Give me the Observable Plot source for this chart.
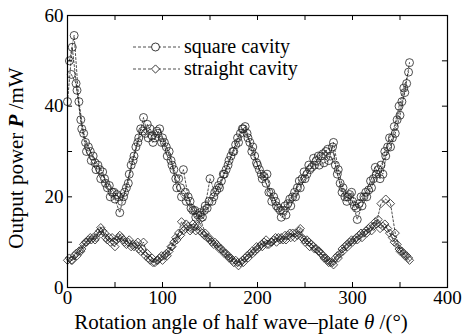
<!DOCTYPE html>
<html><head><meta charset="utf-8">
<script src="https://cdn.jsdelivr.net/npm/d3@7"></script>
<script src="https://cdn.jsdelivr.net/npm/@observablehq/plot@0.6"></script>
<style>body{margin:0;background:#fff}</style>
</head><body><div id="chart"></div>
<script>
// Rotation angles (degrees) of the three measurement runs
const angA = d3.range(0, 361, 5);
const angB = d3.range(2, 358, 5);
const angC = d3.range(4, 360, 5);

// Square cavity output power (mW), three runs
const squareA = [41,53,43.5,35,30,28,26,24,23,20,19.5,16.5,21,25,29,33,37.5,33,32,34,33,29,27,22,20,19,17.5,15.5,16,18,24,21,22,25,28,30,32,35,33,31,27,24,25,19,18,15.5,16,18,20,22,24,26,27,27,27.5,28,32,26,22,20,19,15,18,20,22,25,27,29,31,34,38,43,49.6];
const squareB = [50,55.6,41,34,31,29,27,25.5,22,21,20.5,19,22,27,31,35,34,35,33,35,32,30,26,24,26,20,17,16,15.5,17.5,19,21.5,23.5,26,29,31.5,34,35.5,32,29,26,24.5,21,20,17.5,17,18.5,20,22,24,25,26.5,28,29,30,29,27,23,20,20.5,18,18.5,20,21.5,24,26,25,31,33,37,41,45];
const squareC = [47,45,37,32,30,27.5,26,24,22.5,21,20,20,23,28,32,34.5,36,33.5,34.5,32,31,28,24,22,21,19,17,16.5,17,19,20,22.5,25,27,30,33,35,34,30,27.5,25,23,21,19,17,18,19.5,21,23.5,25.5,27,28.5,29,29.5,30.5,31,25,21,19,21,17.5,20,21,23.5,26.5,24,30,33,35.5,40,44,47.5];

// Straight cavity output power (mW), three runs
const straightA = [6,6,7,8.5,10,10.5,11,13.2,11,10,9,11.5,10,10.5,9,8.5,10,6.5,5.5,6,6,7,9,10.5,14.5,14,13,12.5,15,12,10.5,10,8.5,7.5,6.5,5.5,4.8,5.5,6.5,7.5,8.5,9,9.5,10,10,11,10.5,11,12,13,10,9,8.5,8,6.5,5.5,5,6.5,8,9,10,10.5,11,12,12.5,14,18.5,19.5,18.5,12,8,7,6];
const straightB = [6.5,7,8,9.5,10.5,11,12,12.5,10.5,11,10.5,11,9.5,9,9.5,8,7,6,5.5,6.5,7,8,10,12,12.5,13.5,14,13.5,12,11,10,9.5,8.5,7.5,6.5,6,5.5,6.5,7.5,8,9,10,9.5,10.5,11,10.5,11.5,12,11.5,11,10.5,9.5,8.5,7.5,6.5,5.5,6.5,7.5,9,10,10.5,11.5,12,13,13.5,15,13.5,13,11,9.5,8,7];
const straightC = [6,7.5,8,10,11,10.5,12.5,12,11,10,11,10.5,10,9.5,10,8.5,7.5,6.5,6,7,7.5,9,11,11.5,13,12.5,13.5,12.5,11.5,11,9.5,9,8,7,6,5.5,6,7,8,9,9.5,10.5,10,11,10.5,11.5,12,11,12.5,10.5,10,9,8,7,6,5.5,7,8.5,9.5,10.5,11,12,12.5,13.5,14.5,13,14,12,10,8.5,7.5,6.5];

const xTicks = [0,100,200,300,400];
const xMinor = [0,50,100,150,200,250,300,350,400];
const yTicks = [0,20,40,60];
const yMinor = [0,10,20,30,40,50,60];
const seriesLabels = ["square cavity", "straight cavity"];

function rows(angles, values, run){ return values.map((v,i)=>({x: angles[i], y: v, run})); }
const square = [...rows(angA, squareA, "A"), ...rows(angB, squareB, "B"), ...rows(angC, squareC, "C")];
const straight = [...rows(angA, straightA, "A"), ...rows(angB, straightB, "B"), ...rows(angC, straightC, "C")];

const ink = "#222";
const font = "Liberation Serif";
const chart = Plot.plot({
  width: 463, height: 334,
  marginLeft: 67, marginRight: 16, marginTop: 15, marginBottom: 47,
  x: {domain: [0, 400]},
  y: {domain: [0, 60]},
  style: {fontFamily: font, fontSize: "19px", background: "white", color: "black"},
  marks: [
    Plot.line(straight, {x: "x", y: "y", z: "run", stroke: ink, strokeWidth: 0.8, strokeDasharray: "2,2"}),
    Plot.line(square, {x: "x", y: "y", z: "run", stroke: ink, strokeWidth: 0.8, strokeDasharray: "2,2"}),
    Plot.dot(straight, {x: "x", y: "y", symbol: "diamond2", r: 3.7, stroke: ink, strokeWidth: 0.8, fill: "none"}),
    Plot.dot(square, {x: "x", y: "y", symbol: "circle", r: 4, stroke: ink, strokeWidth: 0.8, fill: "none"}),
    Plot.ruleX(xMinor, {x: d => d, y1: 0, y2: 1.1, stroke: "black"}),
    Plot.ruleX(xMinor, {x: d => d, y1: 60, y2: 58.9, stroke: "black"}),
    Plot.ruleY(yMinor, {y: d => d, x1: 0, x2: 5.3, stroke: "black"}),
    Plot.ruleY(yMinor, {y: d => d, x1: 400, x2: 394.7, stroke: "black"}),
    Plot.axisX({ticks: xTicks, tickSize: 0, tickPadding: 3, label: null, fontSize: 19}),
    Plot.axisY({ticks: yTicks, tickSize: 0, tickPadding: 4, label: null, fontSize: 19}),
    Plot.frame({stroke: "black", strokeWidth: 1.2})
  ]
});
document.getElementById("chart").appendChild(chart);

const svg = d3.select(chart);
// Axis titles
const xl = svg.append("text").attr("x", 241).attr("y", 329).attr("text-anchor", "middle")
  .attr("font-family", font).attr("font-size", 21).attr("fill", "black");
xl.append("tspan").text("Rotation angle of half wave\u2013plate ");
xl.append("tspan").attr("font-style", "italic").text("\u03B8");
xl.append("tspan").text(" /(\u00B0)");
const yl = svg.append("text").attr("transform", "translate(23,158) rotate(-90)").attr("text-anchor", "middle")
  .attr("font-family", font).attr("font-size", 21).attr("fill", "black");
yl.append("tspan").text("Output power ");
yl.append("tspan").attr("font-style", "italic").attr("font-weight", "bold").text("P");
yl.append("tspan").text(" /mW");

// Legend
const legendItems = [{label: seriesLabels[0], sym: d3.symbolCircle, y: 47, r: 4}, {label: seriesLabels[1], sym: d3.symbolDiamond2, y: 69, r: 3.7}];
const lg = svg.append("g");
legendItems.forEach(it => {
  lg.append("line").attr("x1", 133).attr("x2", 180).attr("y1", it.y).attr("y2", it.y)
    .attr("stroke", ink).attr("stroke-width", 0.8).attr("stroke-dasharray", "3,2");
  lg.append("path").attr("transform", `translate(155.5,${it.y})`).attr("d", d3.symbol(it.sym, Math.PI * it.r * it.r)())
    .attr("fill", "white").attr("stroke", ink).attr("stroke-width", 0.9);
  lg.append("text").attr("x", 184).attr("y", it.y + 6).attr("text-anchor", "start")
    .attr("font-family", font).attr("font-size", 20).attr("fill", "black").text(it.label);
});
</script></body></html>
